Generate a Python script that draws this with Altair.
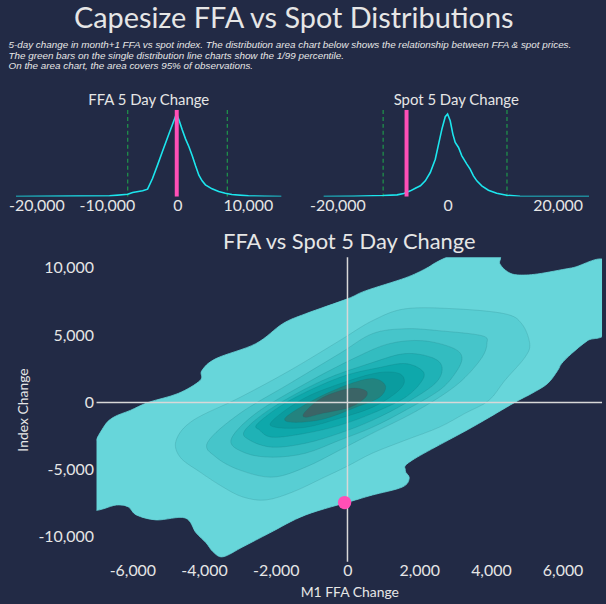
import altair as alt
import pandas as pd

BG = "#222a45"
TXT = "#e6e6e6"
FONT = "Lato"
CYAN = "#1ce6ee"
PINK = "#ff4fb6"
GREEN = "#1f8f4a"

# ---- single distributions (relative density, peak = 1) ----
ffa_x = [-22900, -9620, -7040, -6330, -4920, -4220, -3520, -2810, -2110, -1640,
         -1170, -700, -230, -90, 240, 710, 1180, 1650, 2120, 2590, 3060, 3520,
         3990, 4930, 5870, 6810, 7750, 10100, 12440, 14790]
ffa_d = [0.0, 0.008, 0.028, 0.049, 0.069, 0.089, 0.219, 0.381, 0.547, 0.656,
         0.765, 0.870, 0.980, 1.0, 0.927, 0.806, 0.696, 0.603, 0.494, 0.372,
         0.259, 0.190, 0.142, 0.093, 0.061, 0.040, 0.024, 0.008, 0.004, 0.0]

spot_x = [-22550, -17000, -11700, -9170, -7960, -6750, -5850, -4940, -4040, -3140,
          -2230, -1630, -1030, -420, 0, 480, 960, 1390, 1990, 2590, 3500, 4100,
          4700, 5310, 6210, 7420, 8920, 10730, 13150, 19180, 25690]
spot_d = [0.0, 0.004, 0.012, 0.020, 0.036, 0.069, 0.101, 0.130, 0.190, 0.291,
          0.453, 0.636, 0.818, 0.968, 1.0, 0.919, 0.757, 0.656, 0.595, 0.494,
          0.393, 0.332, 0.251, 0.190, 0.130, 0.077, 0.040, 0.016, 0.004, 0.0, 0.0]

ffa_pct = [-7040, 7100]      # 1st / 99th percentile
spot_pct = [-11700, 10790]
latest_ffa = -80             # latest 5-day change
latest_spot = -7450

# ---- joint density contours (outer -> inner), M1 FFA change vs index change ----
c1_x = [-7150, -6806, -6528, -6056, -5556, -4722, -4111, -4060, -3667, -2556,
        -1806, -1167, 0, 500, 1611, 2167, 2444, 2722, 3000, 4167, 4250, 4472,
        4750, 5306, 6250, 7250, 7250, 6694, 6250, 5972, 5861, 5583, 5139, 4667,
        3472, 1806, 1611, 1722, 1528, 694, 222, -1167, -2167, -2917, -3472,
        -3750, -3944, -4222, -4528, -5333, -5889, -6111, -6444, -7150, -7150]
c1_y = [-3700, -1852, -1111, -593, 0, 667, 1630, 2370, 3259, 4370,
        5852, 6593, 7704, 8296, 9259, 9926, 10370, 10741, 11000, 11000, 10296, 9704,
        9481, 9556, 10000, 10400, 5481, 4593, 3630, 2889, 2370, 1407, 667, 0,
        -1852, -4296, -5037, -5630, -6296, -6889, -7260, -8370, -9704, -10741, -11481,
        -11111, -10444, -9704, -8593, -8741, -8370, -7778, -7630, -7926, -5500]

c2_x = [-4778, -4306, -3000, -1611, -222, 694, 1611, 3000, 4389, 4861, 5083, 4944,
        4389, 3944, 3278, 2556, 1611, 694, 0, -694, -1528, -2278, -2917, -3472,
        -4111, -4667]
c2_y = [-2815, -1333, 370, 2370, 4593, 6074, 6963, 6963, 6593, 5852, 4370, 3333,
        1630, 148, -815, -1852, -2815, -3778, -4741, -5630, -6667, -7259, -7037, -6296,
        -5185, -4074]

c3_x = [-3900, -3000, -1611, -222, 694, 1611, 2556, 3750, 3889, 3750, 3278, 2722,
        1806, 694, -222, -1167, -2083, -3000, -3667]
c3_y = [-2960, -815, 1407, 3630, 5111, 5481, 5333, 4963, 4370, 3333, 1852, 667,
        -815, -2296, -3556, -4815, -5556, -5037, -4074]

c4_x = [-3250, -2556, -1167, 222, 1167, 2083, 2917, 3194, 3000, 2556, 1611, 694,
        -222, -1167, -2083, -2833]
c4_y = [-2800, -815, 1407, 3333, 4370, 4593, 4074, 3333, 2148, 889, -593, -1852,
        -2815, -3778, -4074, -3778]

c5_x = [-2861, -2083, -694, 694, 1611, 2361, 2639, 2444, 1611, 694, -222, -1167,
        -2083, -2722]
c5_y = [-2074, -370, 1630, 2963, 3630, 3333, 2593, 1407, -74, -1333, -2296, -3037,
        -3333, -2815]

c6_x = [-2500, -1611, -222, 889, 1611, 2083, 2083, 1611, 694, -222, -1167, -2083, -2444]
c6_y = [-1556, 148, 1852, 2593, 2889, 2370, 1630, 370, -815, -1704, -2296, -2593, -2074]

c7_x = [-2083, -1167, 56, 889, 1444, 1583, 1333, 694, -222, -1167, -2000]
c7_y = [-1333, 370, 1630, 2222, 2148, 1481, 667, -370, -1185, -1852, -1852]

c8_x = [-1722, -972, -56, 694, 1056, 889, 222, -694, -1528]
c8_y = [-1111, 148, 1259, 1778, 1259, 370, -370, -1259, -1481]

c9_x = [-1194, -694, 56, 500, 500, 56, -694, -1167]
c9_y = [-741, 370, 1037, 889, 370, -370, -815, -1111]

contours = [(c1_x, c1_y), (c2_x, c2_y), (c3_x, c3_y), (c4_x, c4_y), (c5_x, c5_y),
            (c6_x, c6_y), (c7_x, c7_y), (c8_x, c8_y), (c9_x, c9_y)]
level_colors = ["#67d6da", "#58ced3", "#46c5ca", "#33bcc0", "#1fb2b6",
                "#0ea8ab", "#0a9c9f", "#23837f", "#3b6466"]

x_ticks_main = [-6000, -4000, -2000, 0, 2000, 4000, 6000]
y_ticks_main = [-10000, -5000, 0, 5000, 10000]

LABEL_EXPR = "(datum.value < 0 ? '-' : '') + format(abs(datum.value), ',')"


def small_axis(values):
    return alt.Axis(values=values, labelExpr=LABEL_EXPR, title=None, ticks=False,
                    domain=False, grid=False, labelFontSize=16, labelPadding=1,
                    labelColor=TXT, labelFont=FONT)


def distribution(xs, ds, pct, latest, domain, ticks, title):
    scale = alt.Scale(domain=domain, nice=False, zero=False)
    ax = small_axis(ticks)
    curve_df = pd.DataFrame({"v": xs, "d": ds})
    pct_df = pd.DataFrame({"v": pct})
    latest_df = pd.DataFrame({"v": [latest]})
    pct_rules = alt.Chart(pct_df).mark_rule(
        color=GREEN, strokeDash=[4, 3], strokeWidth=1.3
    ).encode(x=alt.X("v:Q", scale=scale, axis=ax))
    curve = alt.Chart(curve_df).mark_line(
        color=CYAN, strokeWidth=1.6, clip=True
    ).encode(
        x=alt.X("v:Q", scale=scale, axis=ax),
        y=alt.Y("d:Q", scale=alt.Scale(domain=[0, 1.05], nice=False), axis=None),
    )
    latest_rule = alt.Chart(latest_df).mark_rule(
        color=PINK, strokeWidth=4
    ).encode(x=alt.X("v:Q", scale=scale, axis=ax))
    return alt.layer(pct_rules, curve, latest_rule).properties(
        width=267, height=87,
        title=alt.Title(title, fontSize=15, font=FONT, fontWeight="normal",
                        color=TXT, offset=0),
    )


ffa_chart = distribution(ffa_x, ffa_d, ffa_pct, latest_ffa, [-22900, 14800],
                         [-20000, -10000, 0, 10000], "FFA 5 Day Change")
spot_chart = distribution(spot_x, spot_d, spot_pct, latest_spot, [-22550, 25700],
                          [-20000, 0, 20000], "Spot 5 Day Change")

subtitle = [
    "5-day change in month+1 FFA vs spot index. The distribution area chart below shows the relationship between FFA & spot prices.",
    "The green bars on the single distribution line charts show the 1/99 percentile.",
    "On the area chart, the area covers 95% of observations.",
]

top_row = alt.hconcat(ffa_chart, spot_chart, spacing=28).properties(
    title=alt.Title(subtitle, anchor="start", fontSize=9.9, font="Liberation Sans",
                    fontStyle="italic", fontWeight="normal", color=TXT,
                    lineHeight=10.5, offset=22)
)

# ---- joint distribution panel ----
xs_main = alt.Scale(domain=[-7000, 7100], nice=False, zero=False)
ys_main = alt.Scale(domain=[-11850, 10800], nice=False, zero=False)
x_axis = alt.Axis(values=x_ticks_main, labelExpr=LABEL_EXPR, title="M1 FFA Change",
                  ticks=False, domain=False, grid=False, labelFontSize=16,
                  labelPadding=1, titlePadding=7, titleFontSize=14)
y_axis = alt.Axis(values=y_ticks_main, labelExpr=LABEL_EXPR, title="Index Change",
                  ticks=False, domain=False, grid=False, labelFontSize=16,
                  labelPadding=3, titlePadding=7, titleFontSize=14)

layers = []
for i, ((cx, cy), col) in enumerate(zip(contours, level_colors)):
    df = pd.DataFrame({"fx": cx, "sy": cy, "k": list(range(len(cx)))})
    layers.append(
        alt.Chart(df).mark_line(
            fill=col, stroke=col if i == 0 else "#12585c",
            strokeOpacity=1 if i == 0 else 0.18, strokeWidth=0.8,
            interpolate="cardinal-closed", clip=True,
        ).encode(
            x=alt.X("fx:Q", scale=xs_main, axis=x_axis),
            y=alt.Y("sy:Q", scale=ys_main, axis=y_axis),
            order="k:Q",
        )
    )

zero_df = pd.DataFrame({"z": [0]})
h_zero = alt.Chart(zero_df).mark_rule(color="#d8d8d8", strokeWidth=1.5).encode(
    y=alt.Y("z:Q", scale=ys_main, axis=y_axis))
v_zero = alt.Chart(zero_df).mark_rule(color="#d8d8d8", strokeWidth=1.5).encode(
    x=alt.X("z:Q", scale=xs_main, axis=x_axis))
latest_df = pd.DataFrame({"fx": [latest_ffa], "sy": [latest_spot]})
latest_dot = alt.Chart(latest_df).mark_circle(size=180, color=PINK, opacity=1).encode(
    x=alt.X("fx:Q", scale=xs_main, axis=x_axis),
    y=alt.Y("sy:Q", scale=ys_main, axis=y_axis),
)

main = alt.layer(*layers, h_zero, v_zero, latest_dot).properties(
    width=508, height=306,
    title=alt.Title("FFA vs Spot 5 Day Change", fontSize=22, font=FONT,
                    fontWeight="normal", color=TXT, offset=3, frame="group"),
)

# empty zero-width cell so the joint panel's axis sits in the margin
gutter = alt.Chart(pd.DataFrame({"g": [""]})).mark_text(opacity=0).encode(
    text="g:N").properties(width=1, height=1)
main_row = alt.hconcat(gutter, main, spacing=0)

chart = alt.vconcat(
    top_row, main_row, spacing=17,
    title=alt.Title("Capesize FFA vs Spot Distributions", fontSize=29, font=FONT,
                    fontWeight="normal", color=TXT, anchor="middle", offset=6,
                    dx=-12),
    background=BG,
    padding={"left": 8, "top": 4, "right": 3, "bottom": 3},
).configure_view(strokeWidth=0).configure_axis(
    labelColor=TXT, titleColor=TXT, labelFont=FONT, titleFont=FONT,
    titleFontWeight="normal",
)

chart.save("out.html", embed_options={"renderer": "svg", "actions": False})
